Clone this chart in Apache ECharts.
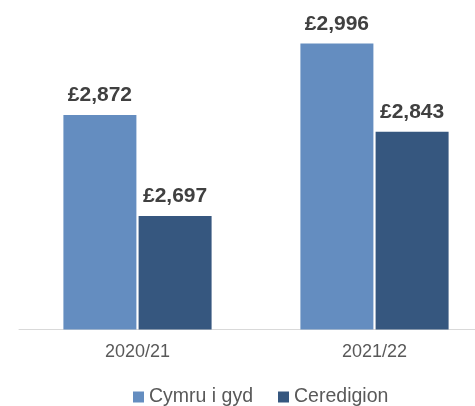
<!DOCTYPE html>
<html>
<head>
<meta charset="utf-8">
<script src="https://cdn.jsdelivr.net/npm/echarts@6/dist/echarts.min.js"></script>
<style>
  html, body { margin: 0; padding: 0; background: #ffffff; }
  #chart { width: 475px; height: 406px; }
</style>
</head>
<body>
<div id="chart"></div>
<script>
// Categories (financial years) and the two series values (£)
const years = ['2020/21', '2021/22'];
const cymruValues = [2872, 2996];
const ceredigionValues = [2697, 2843];
const seriesNames = ['Cymru i gyd', 'Ceredigion'];

const chart = echarts.init(document.getElementById('chart'), null, { renderer: 'canvas' });

const fmtPounds = v => '£' + v.toLocaleString('en-GB');

const barLabel = {
  show: true,
  position: 'top',
  distance: 9,
  formatter: p => fmtPounds(p.value),
  color: '#404040',
  fontFamily: 'Liberation Sans, Arial, sans-serif',
  fontWeight: 'bold',
  fontSize: 21
};

chart.setOption({
  animation: false,
  backgroundColor: '#ffffff',
  // plot area runs a little past the right edge of the canvas
  grid: { left: 19, width: 474, top: 12.5, bottom: 76.5, containLabel: false, outerBoundsMode: 'none' },
  legend: {
    data: seriesNames,
    left: 133,
    top: 387,
    padding: 0,
    icon: 'rect',
    itemWidth: 11,
    itemHeight: 11,
    itemGap: 25,
    textStyle: {
      color: '#595959',
      fontFamily: 'Liberation Sans, Arial, sans-serif',
      fontSize: 19.5
    }
  },
  xAxis: {
    type: 'category',
    data: years,
    axisTick: { show: false },
    axisLine: { show: true, lineStyle: { color: '#d9d9d9', width: 1 } },
    axisLabel: {
      margin: 14,
      color: '#595959',
      fontFamily: 'Liberation Sans, Arial, sans-serif',
      fontSize: 18
    }
  },
  yAxis: {
    type: 'value',
    min: 2500,
    max: 3050,
    show: false,
    splitLine: { show: false }
  },
  series: [
    {
      name: seriesNames[0],
      type: 'bar',
      data: cymruValues,
      barWidth: 73,
      barGap: '3%',
      itemStyle: { color: '#648DC0' },
      label: barLabel
    },
    {
      name: seriesNames[1],
      type: 'bar',
      data: ceredigionValues,
      barWidth: 73,
      itemStyle: { color: '#36577F' },
      label: barLabel
    }
  ]
});
</script>
</body>
</html>
